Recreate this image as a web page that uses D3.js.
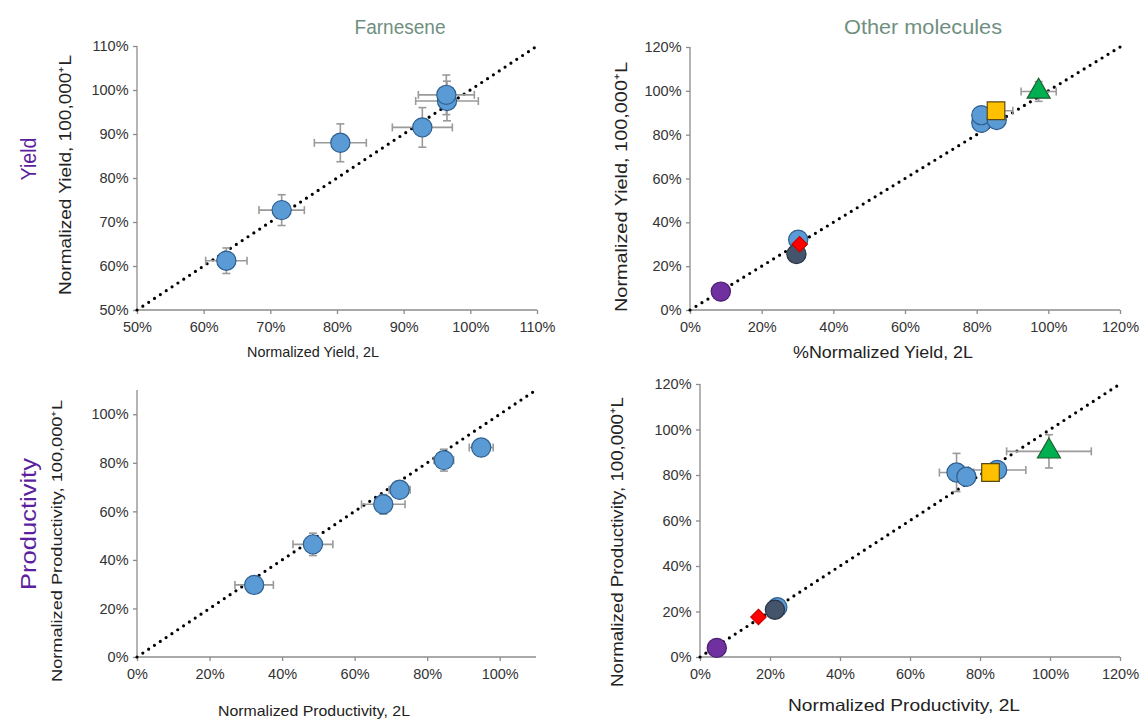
<!DOCTYPE html>
<html><head><meta charset="utf-8">
<script src="https://cdn.jsdelivr.net/npm/d3@7"></script>
<style>
body{margin:0;background:#fff;}
svg{font-family:"Liberation Sans",Arial,sans-serif;}
</style></head>
<body><svg id="c" width="1146" height="720"></svg>
<script>
// ---- data ----
const columnTitles = ["Farnesene", "Other molecules"];
const rowTitles = ["Yield", "Productivity"];

// Farnesene yield
const farnYieldX    = [0.634, 0.717, 0.805, 0.928, 0.965, 0.964];
const farnYieldY    = [0.612, 0.727, 0.880, 0.915, 0.975, 0.989];
const farnYieldXErr = [0.031, 0.034, 0.039, 0.045, 0.047, 0.042];
const farnYieldYErr = [0.029, 0.035, 0.043, 0.045, 0.045, 0.045];

// Farnesene productivity
const farnProdX    = [0.323, 0.485, 0.679, 0.724, 0.846, 0.949];
const farnProdY    = [0.297, 0.464, 0.629, 0.689, 0.811, 0.863];
const farnProdXErr = [0.053, 0.055, 0.060, 0.029, 0.027, 0.033];
const farnProdYErr = [0.010, 0.046, 0.040, 0.030, 0.045, 0.012];

// Other molecules: molecule id per point
const otherYieldMol  = ["purple", "blue", "slate", "red", "blue", "blue", "blue", "yellow", "green"];
const otherYieldX    = [0.086, 0.302, 0.297, 0.306, 0.813, 0.813, 0.856, 0.854, 0.973];
const otherYieldY    = [0.084, 0.321, 0.255, 0.300, 0.854, 0.889, 0.867, 0.909, 0.997];
const otherYieldXErr = [0, 0, 0, 0, 0, 0, 0.02, 0.047, 0.049];
const otherYieldYErr = [0, 0, 0, 0, 0, 0, 0.01, 0.015, 0.045];

const otherProdMol  = ["purple", "red", "blue", "slate", "blue", "blue", "blue", "yellow", "green"];
const otherProdX    = [0.048, 0.167, 0.221, 0.214, 0.849, 0.733, 0.761, 0.830, 0.997];
const otherProdY    = [0.040, 0.176, 0.219, 0.208, 0.822, 0.811, 0.792, 0.811, 0.904];
const otherProdXErr = [0, 0, 0, 0, 0.082, 0.049, 0.02, 0.02, 0.121];
const otherProdYErr = [0, 0, 0, 0, 0.01, 0.084, 0.02, 0.01, 0.073];

const ticksFarnYield = [0.5, 0.6, 0.7, 0.8, 0.9, 1.0, 1.1];
const ticksProd = [0, 0.2, 0.4, 0.6, 0.8, 1.0];
const ticksOther = [0, 0.2, 0.4, 0.6, 0.8, 1.0, 1.2];

// ---- styles ----
const molStyle = {
  blue:   {shape: d3.symbolCircle,   fill: "#5b9bd5", stroke: "#2f5f8f", size: 290},
  slate:  {shape: d3.symbolCircle,   fill: "#44546a", stroke: "#2a3442", size: 290},
  purple: {shape: d3.symbolCircle,   fill: "#7030a0", stroke: "#4b1f6e", size: 290},
  red:    {shape: d3.symbolDiamond2, fill: "#ff0000", stroke: "#cc0000", size: 150},
  yellow: {shape: d3.symbolSquare,   fill: "#ffc000", stroke: "#5a4a10", size: 310},
  green:  {shape: d3.symbolTriangle, fill: "#00b050", stroke: "#1f5f30", size: 230}
};

const svg = d3.select("#c");
const pct = d3.format(".0%");

function label(g, txt, x, y, size, len, rot) {
  const t = g.append("text")
    .attr("transform", `translate(${x},${y})` + (rot ? " rotate(-90)" : ""))
    .attr("text-anchor", "middle").attr("fill", "#222").style("font-size", size + "px")
    .attr("textLength", len).attr("lengthAdjust", "spacingAndGlyphs").text(txt);
  return t;
}

function panel(o) {
  const x = d3.scaleLinear().domain(o.xd).range(o.xr);
  const y = d3.scaleLinear().domain(o.yd).range(o.yr);
  const g = svg.append("g");
  const xa = g.append("g").attr("transform", `translate(0,${o.yr[0]})`)
    .call(d3.axisBottom(x).tickValues(o.xt).tickFormat(pct).tickSizeOuter(0).tickSize(4));
  const ya = g.append("g").attr("transform", `translate(${o.xr[0]},0)`)
    .call(d3.axisLeft(y).tickValues(o.yt).tickFormat(pct).tickSizeOuter(0).tickSize(4));
  [xa, ya].forEach(a => {
    a.selectAll("path,line").attr("stroke", "#8c8c8c").attr("stroke-width", 1.3);
    a.selectAll("text").attr("fill", "#333").style("font-size", o.tickSize + "px");
  });
  xa.selectAll("text").attr("dy", "1.0em");
  ya.selectAll("text").attr("dx", "-0.1em");
  xa.select("path").attr("d", `M${o.xr[0]},0H${o.xr[1]}`);
  ya.select("path").attr("d", `M0,${o.yr[0]}V${o.yr[1]}`);

  // diagonal y = x
  const lo = Math.max(o.xd[0], o.yd[0]), hi = Math.min(o.xd[1], o.yd[1]);
  g.append("line")
    .attr("x1", x(lo)).attr("y1", y(lo)).attr("x2", x(hi)).attr("y2", y(hi))
    .attr("stroke", "#000").attr("stroke-width", 3.2)
    .attr("stroke-linecap", "round").attr("stroke-dasharray", "0 7");

  const pts = o.xs.map((v, i) => ({x: v, y: o.ys[i], ex: o.ex[i], ey: o.ey[i], m: o.mol ? o.mol[i] : "blue"}));
  const eb = g.append("g").attr("stroke", "#9a9a9a").attr("stroke-width", 1.6).attr("fill", "none");
  const cap = 4;
  pts.forEach(p => {
    if (p.ex > 0) {
      eb.append("line").attr("x1", x(p.x - p.ex)).attr("x2", x(p.x + p.ex)).attr("y1", y(p.y)).attr("y2", y(p.y));
      [p.x - p.ex, p.x + p.ex].forEach(v => eb.append("line").attr("x1", x(v)).attr("x2", x(v)).attr("y1", y(p.y) - cap).attr("y2", y(p.y) + cap));
    }
    if (p.ey > 0) {
      eb.append("line").attr("y1", y(p.y - p.ey)).attr("y2", y(p.y + p.ey)).attr("x1", x(p.x)).attr("x2", x(p.x));
      [p.y - p.ey, p.y + p.ey].forEach(v => eb.append("line").attr("y1", y(v)).attr("y2", y(v)).attr("x1", x(p.x) - cap).attr("x2", x(p.x) + cap));
    }
  });
  g.append("g").selectAll("path").data(pts).join("path")
    .attr("transform", d => `translate(${x(d.x)},${y(d.y)})`)
    .attr("d", d => d3.symbol(molStyle[d.m].shape, molStyle[d.m].size)())
    .attr("fill", d => molStyle[d.m].fill)
    .attr("stroke", d => molStyle[d.m].stroke).attr("stroke-width", 1.2);

  label(g, o.xl, o.xlX, o.xlY, o.xlSize, o.xlLen, false);
  label(g, o.yl, o.ylX, o.ylY, o.ylSize, o.ylLen, true);
}

panel({xd: [0.5, 1.1], yd: [0.5, 1.1], xr: [137, 537], yr: [310, 46], xt: ticksFarnYield, yt: ticksFarnYield, tickSize: 14.5,
  xs: farnYieldX, ys: farnYieldY, ex: farnYieldXErr, ey: farnYieldYErr,
  xl: "Normalized Yield, 2L", xlX: 313, xlY: 357, xlSize: 15, xlLen: 132,
  yl: "Normalized Yield, 100,000\u207AL", ylX: 71, ylY: 175, ylSize: 16.5, ylLen: 240});

panel({xd: [0, 1.2], yd: [0, 1.2], xr: [690, 1120], yr: [310, 47], xt: ticksOther, yt: ticksOther, tickSize: 14.5,
  xs: otherYieldX, ys: otherYieldY, ex: otherYieldXErr, ey: otherYieldYErr, mol: otherYieldMol,
  xl: "%Normalized Yield, 2L", xlX: 883, xlY: 358, xlSize: 16, xlLen: 180,
  yl: "Normalized Yield, 100,000\u207AL", ylX: 627, ylY: 187, ylSize: 17, ylLen: 250});

panel({xd: [0, 1.1], yd: [0, 1.1], xr: [137, 536], yr: [657, 390], xt: ticksProd, yt: ticksProd, tickSize: 14.5,
  xs: farnProdX, ys: farnProdY, ex: farnProdXErr, ey: farnProdYErr,
  xl: "Normalized Productivity, 2L", xlX: 314, xlY: 716, xlSize: 15, xlLen: 192,
  yl: "Normalized Productivity, 100,000\u207AL", ylX: 62, ylY: 541, ylSize: 14, ylLen: 282});

panel({xd: [0, 1.2], yd: [0, 1.2], xr: [700, 1120], yr: [657, 384], xt: ticksOther, yt: ticksOther, tickSize: 14.5,
  xs: otherProdX, ys: otherProdY, ex: otherProdXErr, ey: otherProdYErr, mol: otherProdMol,
  xl: "Normalized Productivity, 2L", xlX: 904, xlY: 711, xlSize: 16.5, xlLen: 232,
  yl: "Normalized Productivity, 100,000\u207AL", ylX: 623, ylY: 542, ylSize: 17, ylLen: 290});

// column titles
svg.selectAll("text.ct").data(columnTitles).join("text").attr("class", "ct")
  .attr("x", (d, i) => [400, 923][i]).attr("y", 34).attr("text-anchor", "middle")
  .attr("fill", "#6f8f80").style("font-size", "19.5px")
  .attr("textLength", (d, i) => [91, 158][i]).attr("lengthAdjust", "spacingAndGlyphs").text(d => d);
// row titles
svg.selectAll("text.rt").data(rowTitles).join("text").attr("class", "rt")
  .attr("transform", (d, i) => `translate(36,${[159, 524][i]}) rotate(-90)`).attr("text-anchor", "middle")
  .attr("fill", "#5b1fa0").style("font-size", "22px")
  .attr("textLength", (d, i) => [43, 132][i]).attr("lengthAdjust", "spacingAndGlyphs").text(d => d);
</script></body></html>
